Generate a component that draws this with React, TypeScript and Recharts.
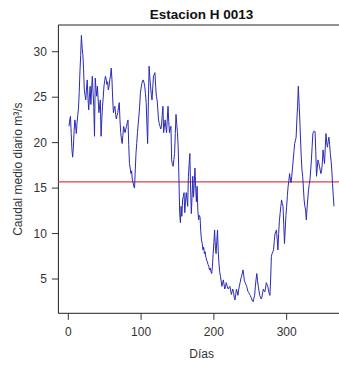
import React from 'react';
import { LineChart, Line, XAxis, YAxis, ReferenceLine, ReferenceArea } from 'recharts';

// Caudal medio diario (m³/s) por mes
const caudalEne = [21.8, 22.5, 22.9, 21.0, 19.2, 18.4, 19.6, 21.3, 22.5, 21.9, 21.0, 22.2, 23.0, 23.8, 25.5, 27.8, 29.6, 31.8, 30.4, 29.7, 28.0, 25.8, 25.2, 24.7, 25.9, 26.9, 25.0, 23.6, 25.0, 26.2, 24.2];
const caudalFeb = [25.8, 27.3, 25.5, 24.0, 20.7, 27.1, 26.0, 25.1, 26.2, 24.8, 23.3, 24.0, 24.7, 20.7, 22.5, 24.0, 25.0, 26.2, 26.8, 27.3, 27.0, 26.4, 26.7, 25.8, 26.2, 26.9, 27.4, 28.2];
const caudalMar = [26.9, 24.8, 23.3, 23.8, 24.0, 23.1, 22.6, 23.0, 23.3, 23.9, 24.4, 22.5, 21.1, 20.4, 19.9, 20.8, 21.8, 21.4, 21.1, 21.5, 21.8, 22.2, 22.5, 19.8, 17.7, 17.2, 16.6, 16.9, 15.9, 15.6, 15.2];
const caudalAbr = [15.0, 17.0, 18.8, 19.9, 21.1, 22.0, 22.9, 24.0, 25.4, 26.0, 26.5, 26.8, 26.9, 26.6, 26.2, 25.4, 24.4, 22.0, 19.9, 24.5, 28.4, 27.2, 26.2, 25.3, 24.7, 26.0, 27.3, 27.5, 27.7, 26.2];
const caudalMay = [25.1, 24.7, 23.6, 22.5, 22.1, 21.8, 21.5, 21.8, 23.0, 24.0, 21.1, 21.8, 22.5, 21.7, 21.1, 22.6, 24.0, 22.3, 21.1, 21.5, 21.8, 18.1, 17.6, 17.4, 18.1, 18.8, 21.0, 23.1, 22.0, 21.1, 19.5];
const caudalJun = [16.0, 12.3, 11.2, 13.0, 11.9, 13.7, 14.1, 14.5, 12.3, 13.5, 14.5, 13.8, 13.0, 16.3, 17.6, 18.8, 15.0, 12.2, 14.0, 16.3, 14.0, 15.5, 17.2, 15.0, 13.5, 15.2, 12.5, 11.5, 12.0, 11.8];
const caudalJul = [10.2, 9.3, 8.9, 8.2, 8.5, 7.8, 8.0, 7.4, 7.1, 6.9, 6.6, 6.4, 6.0, 6.2, 5.8, 5.6, 6.4, 7.8, 9.0, 10.4, 8.6, 7.8, 9.2, 10.4, 8.0, 6.7, 5.8, 5.3, 4.8, 4.2, 4.6];
const caudalAgo = [4.9, 4.4, 3.9, 4.2, 4.6, 4.3, 4.0, 3.9, 4.1, 4.2, 3.8, 3.3, 3.6, 3.9, 3.5, 3.0, 2.7, 3.3, 3.9, 3.6, 3.2, 3.8, 4.2, 4.6, 5.0, 5.3, 5.6, 6.0, 5.4, 4.8, 4.6];
const caudalSep = [4.4, 4.2, 3.9, 3.6, 3.5, 3.3, 3.2, 3.0, 2.8, 2.6, 2.5, 2.9, 3.2, 4.2, 5.0, 5.6, 4.8, 4.2, 3.7, 3.2, 3.0, 2.8, 3.0, 3.5, 3.9, 3.7, 3.6, 4.0, 4.6, 4.4];
const caudalOct = [4.2, 3.8, 3.4, 3.2, 5.0, 7.5, 7.8, 8.0, 8.2, 9.2, 10.0, 10.2, 10.4, 9.3, 8.2, 10.0, 11.4, 12.2, 13.0, 13.7, 13.3, 13.0, 11.0, 8.9, 10.5, 12.0, 13.0, 14.2, 15.2, 15.8, 16.6];
const caudalNov = [16.0, 15.6, 16.3, 17.2, 18.1, 19.0, 19.9, 20.2, 20.6, 22.5, 24.0, 26.2, 24.4, 22.6, 20.5, 18.5, 17.0, 16.3, 15.0, 13.7, 13.0, 12.6, 11.5, 12.8, 13.8, 14.8, 15.4, 15.9, 17.0, 18.1];
const caudalDic = [19.6, 21.0, 21.2, 21.3, 21.2, 19.0, 16.3, 17.2, 18.1, 17.8, 17.4, 17.0, 16.6, 16.9, 17.8, 19.2, 18.4, 17.7, 19.4, 21.0, 20.0, 19.5, 20.1, 20.6, 19.8, 18.8, 18.0, 17.0, 15.5, 14.2, 13.0];

const mediaCaudal = 15.68;
const xTicks = [0, 100, 200, 300];
const yTicks = [5, 10, 15, 20, 25, 30];
const titulo = 'Estacion H 0013';
const etiquetaX = 'Días';
const etiquetaY = 'Caudal medio diario m³/s';

const caudalDiario = [
  ...caudalEne, ...caudalFeb, ...caudalMar, ...caudalAbr, ...caudalMay, ...caudalJun,
  ...caudalJul, ...caudalAgo, ...caudalSep, ...caudalOct, ...caudalNov, ...caudalDic,
];
const data = caudalDiario.map((c, i) => ({ dia: i + 1, caudal: c }));

const X_DOMAIN: [number, number] = [-13.6, 380];
const Y_DOMAIN: [number, number] = [1.23, 32.94];
const FONT = '"Liberation Sans", Arial, sans-serif';
const TEXT = '#333';

export default function App() {
  return (
    <div style={{ position: 'absolute', left: 0, top: 0, width: 339, height: 370, overflow: 'hidden', background: '#fff' }}>
      <div
        style={{
          position: 'absolute', left: 0, top: 8, width: 403, textAlign: 'center',
          fontFamily: FONT, fontWeight: 'bold', fontSize: 13.5, lineHeight: '13px', color: '#111',
        }}
      >
        {titulo}
      </div>
      <LineChart
        width={360}
        height={370}
        data={data}
        margin={{ top: 25, right: 15.1, bottom: 0, left: 0 }}
        style={{ fontFamily: FONT }}
      >
        <ReferenceArea
          x1={X_DOMAIN[0]} x2={X_DOMAIN[1]} y1={Y_DOMAIN[0]} y2={Y_DOMAIN[1]}
          fill="none" stroke="#222" strokeWidth={1} fillOpacity={0}
        />
        <XAxis
          dataKey="dia"
          type="number"
          domain={X_DOMAIN}
          ticks={xTicks}
          allowDataOverflow
          axisLine={false}
          tickLine={{ stroke: TEXT }}
          tickSize={6.5}
          tickMargin={7.5}
          height={56.7}
          tick={{ fill: TEXT, fontSize: 12 }}
          label={{ value: etiquetaX, position: 'insideBottom', offset: 12, fill: TEXT, fontSize: 12 }}
        />
        <YAxis
          type="number"
          domain={Y_DOMAIN}
          ticks={yTicks}
          allowDataOverflow
          axisLine={false}
          tickLine={{ stroke: TEXT }}
          tickSize={6.5}
          tickMargin={5}
          width={58.4}
          tick={{ fill: TEXT, fontSize: 12 }}
          label={{ value: etiquetaY, angle: -90, position: 'insideLeft', offset: 17.5, fill: TEXT, fontSize: 12, style: { textAnchor: 'middle' } }}
        />
        <ReferenceLine y={mediaCaudal} stroke="#d9434f" strokeWidth={1.2} />
        <Line
          type="linear"
          dataKey="caudal"
          stroke="#2a2ab5"
          strokeWidth={1}
          dot={false}
          isAnimationActive={false}
        />
      </LineChart>
    </div>
  );
}
